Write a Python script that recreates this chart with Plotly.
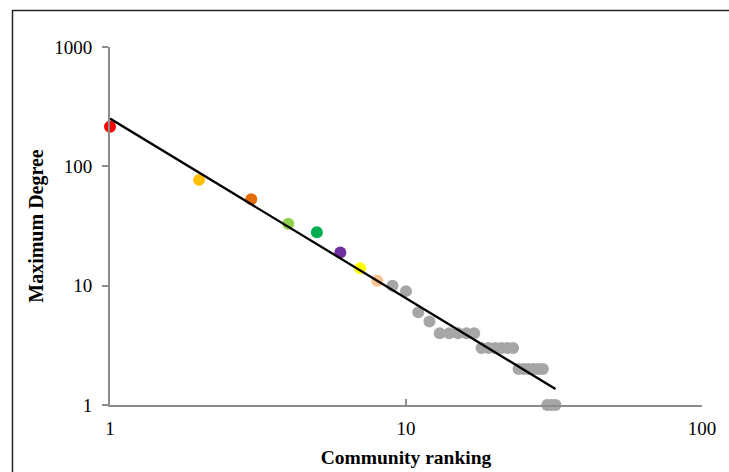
import numpy as np
import plotly.graph_objects as go

# Data
ranks = list(range(1, 33))
max_degree = [215, 77, 53, 33, 28, 19, 14, 11, 10, 9, 6, 5,
              4, 4, 4, 4, 4, 3, 3, 3, 3, 3, 3, 2, 2, 2, 2, 2, 2, 1, 1, 1]
point_colors = ["#FF0000", "#FFC000", "#E46C0A", "#92D050", "#00B050",
                "#7030A0", "#FFFF00", "#FAC090"] + ["#A6A6A6"] * 24
x_tick_vals = [1, 10, 100]
x_tick_text = ["1", "10", "100"]
y_tick_vals = [1, 10, 100, 1000]
y_tick_text = ["1", "10", "100", "1000"]

# Power-law trendline (least squares in log-log space, like Excel)
lx = np.log10(ranks)
ly = np.log10(max_degree)
slope, intercept = np.polyfit(lx, ly, 1)
trend_x = np.logspace(np.log10(min(ranks)), np.log10(max(ranks)), 50)
trend_y = 10 ** intercept * trend_x ** slope

fig = go.Figure()
fig.add_trace(go.Scatter(
    x=ranks, y=max_degree, mode="markers",
    marker=dict(size=12, color=point_colors, line=dict(width=0)),
    cliponaxis=False, showlegend=False, hoverinfo="x+y"))
fig.add_trace(go.Scatter(
    x=trend_x, y=trend_y, mode="lines",
    line=dict(color="black", width=2.25),
    cliponaxis=False, showlegend=False, hoverinfo="skip"))

font_family = "Liberation Serif, Times New Roman, serif"
axis_color = "#8C8C8C"

fig.update_layout(
    width=729, height=472,
    margin=dict(l=110, r=27, t=47, b=67),
    paper_bgcolor="white", plot_bgcolor="white",
    font=dict(family=font_family, size=19, color="black"),
    xaxis=dict(
        type="log", range=[0, 2],
        tickvals=x_tick_vals, ticktext=x_tick_text,
        ticks="inside", ticklen=6, tickwidth=1.5, tickcolor=axis_color,
        showline=True, linecolor=axis_color, linewidth=2,
        showgrid=False, zeroline=False,
        ticklabelstandoff=5,
        title=dict(text="<b>Community ranking</b>", font=dict(size=19.5, family=font_family),
                   standoff=13),
        automargin=False,
    ),
    yaxis=dict(
        type="log", range=[0, 3],
        tickvals=y_tick_vals, ticktext=y_tick_text,
        ticks="outside", ticklen=6, tickwidth=1.5, tickcolor=axis_color,
        showline=True, linecolor=axis_color, linewidth=2,
        showgrid=False, zeroline=False,
        ticklabelstandoff=6,
        title=dict(text="<b>Maximum Degree</b>", font=dict(size=20, family=font_family),
                   standoff=5),
        automargin=False,
    ),
    shapes=[dict(type="rect", xref="paper", yref="paper",
                 x0=-0.1647, x1=1.2, y0=-0.4, y1=1.102,
                 line=dict(color="#262626", width=1.5), fillcolor="rgba(0,0,0,0)",
                 layer="below")],
)

fig.write_html("out.html", config={"displayModeBar": False},
               post_script="document.body.style.margin='0';document.body.style.overflow='hidden';")
